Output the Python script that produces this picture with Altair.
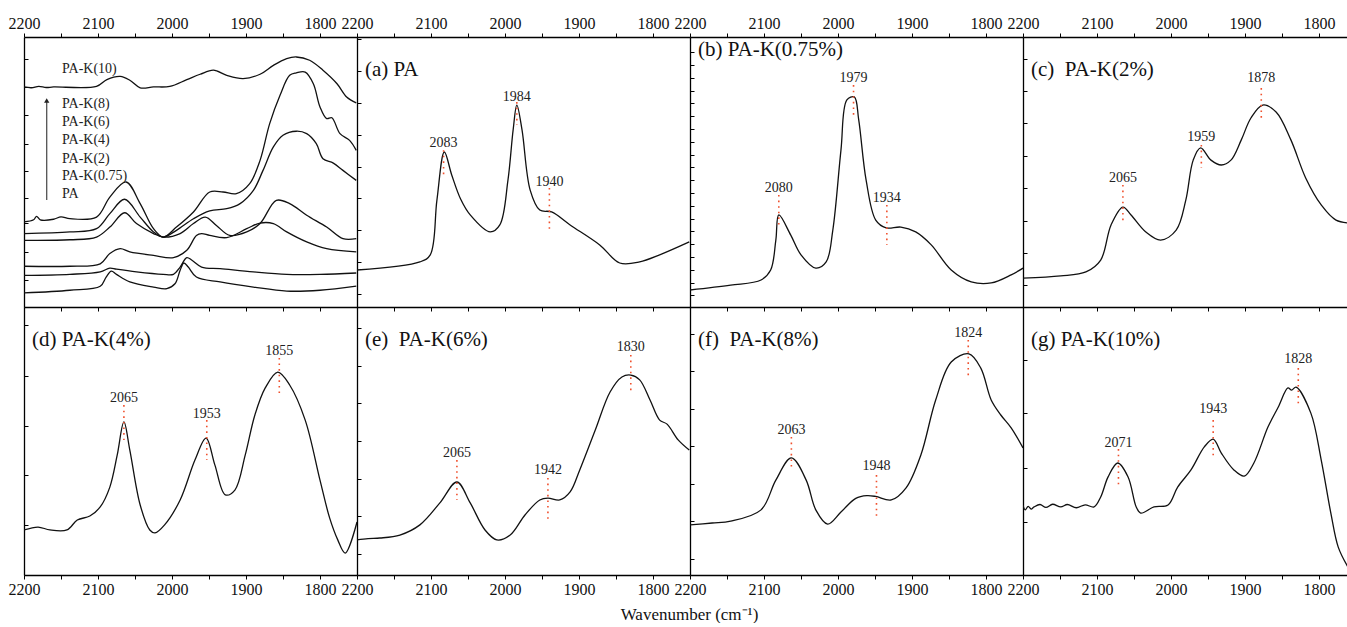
import altair as alt
import pandas as pd

# ---------------------------------------------------------------- data
# Overview panel: stacked spectra (wavenumber, intensity in arbitrary units)
ov_pa_k10_wn = [2200, 2190, 2180, 2170, 2160, 2102, 2088, 2070, 2057, 2043, 2025, 2003, 1980, 1962,
                1944, 1926, 1904, 1881, 1863, 1845, 1832, 1814, 1796, 1777, 1764, 1751]
ov_pa_k10_y = [81.5, 81.2, 81.7, 81.3, 81.5, 81.7, 84.2, 85.4, 84.0, 81.2, 81.5, 81.7, 84.2, 86.2,
               87.7, 85.8, 84.6, 86.2, 89.5, 92.0, 92.6, 91.4, 87.7, 82.7, 77.8, 75.6]
ov_pa_k8_wn = [2200, 2187, 2183, 2178, 2160, 2150, 2138, 2102, 2084, 2062, 2043, 2025, 2012, 1994, 1971,
               1949, 1931, 1913, 1895, 1881, 1868, 1854, 1841, 1832, 1820, 1809, 1800, 1791, 1784,
               1773, 1760, 1751]
ov_pa_k8_y = [31.5, 32.3, 33.6, 32.3, 32.5, 33.4, 32.7, 33.3, 40.7, 46.3, 38.3, 29.0, 25.9, 29.6, 35.2,
              42.6, 42.6, 42.0, 45.7, 54.3, 67.9, 78.4, 85.8, 86.7, 87.0, 82.7, 74.1, 69.8, 70.1,
              64.2, 61.7, 58.0]
ov_pa_k6_wn = [2200, 2138, 2102, 2084, 2064, 2043, 2025, 2012, 1994, 1971, 1949, 1926, 1908, 1890,
               1877, 1863, 1850, 1832, 1818, 1805, 1796, 1782, 1769, 1751]
ov_pa_k6_y = [27.2, 27.8, 29.0, 34.6, 39.9, 33.3, 27.8, 25.9, 28.4, 32.7, 35.6, 36.4, 38.3, 43.2,
              50.6, 59.3, 63.6, 65.1, 64.2, 60.5, 54.9, 53.3, 50.6, 46.9]
ov_pa_k4_wn = [2200, 2138, 2102, 2084, 2064, 2048, 2025, 2012, 1989, 1971, 1955, 1940, 1922, 1899,
               1881, 1859, 1841, 1818, 1791, 1769, 1751]
ov_pa_k4_y = [24.7, 24.9, 25.9, 29.6, 34.9, 30.9, 27.2, 25.9, 27.2, 30.9, 33.3, 30.2, 26.5, 27.8,
              30.9, 39.5, 38.3, 34.0, 29.6, 25.3, 25.3]
ov_pa_k2_wn = [2200, 2138, 2097, 2084, 2070, 2057, 2025, 1998, 1980, 1967, 1960, 1949, 1926, 1899,
               1881, 1863, 1845, 1818, 1791, 1751]
ov_pa_k2_y = [15.1, 15.1, 16.0, 19.8, 21.6, 20.4, 19.1, 18.3, 21.0, 26.5, 27.2, 26.5, 25.7, 29.0,
              31.1, 30.9, 27.8, 24.1, 21.6, 20.4]
ov_pa_k075_wn = [2200, 2138, 2097, 2084, 2075, 2048, 2012, 1998, 1989, 1980, 1973, 1960, 1935, 1890,
                 1845, 1800, 1751]
ov_pa_k075_y = [11.7, 12.1, 13.0, 14.4, 14.0, 13.0, 12.1, 12.1, 14.8, 18.3, 17.3, 14.8, 14.2, 13.0,
                12.1, 12.1, 12.6]
ov_pa_wn = [2200, 2138, 2097, 2089, 2082, 2075, 2057, 2025, 2007, 1996, 1989, 1984, 1978, 1967, 1935,
            1890, 1845, 1800, 1751]
ov_pa_y = [5.2, 6.2, 7.7, 11.1, 13.3, 12.1, 9.3, 7.4, 6.8, 8.6, 13.6, 16.3, 14.8, 11.1, 9.3,
           7.4, 5.9, 6.2, 7.7]

ov_names = ["PA-K(10)", "PA-K(8)", "PA-K(6)", "PA-K(4)", "PA-K(2)", "PA-K(0.75)", "PA"]
ov_label_wn = [2148.6] * 7
ov_label_y = [88.1, 75.2, 68.5, 61.9, 54.8, 48.5, 41.9]

# Single-sample panels
a_wn = [2200, 2115, 2101, 2092, 2082, 2072, 2060, 2047, 2020, 2007, 1996, 1989, 1984, 1977, 1966,
        1953, 1937, 1912, 1872, 1845, 1818, 1791, 1751]
a_y = [13.7, 16.7, 19.3, 39.6, 57.4, 48.9, 40.0, 34.1, 27.8, 30.4, 47.0, 65.6, 74.8, 65.6, 43.3,
       35.9, 35.2, 30.4, 23.0, 16.3, 16.7, 19.3, 24.1]

b_wn = [2200, 2145, 2104, 2091, 2084, 2080, 2064, 2050, 2030, 2016, 2007, 1996, 1988, 1978, 1972,
        1962, 1949, 1935, 1915, 1895, 1874, 1847, 1820, 1793, 1766, 1750]
b_y = [6.3, 8.1, 10.0, 13.7, 24.8, 34.1, 26.7, 19.3, 14.4, 16.7, 28.5, 58.1, 76.7, 77.8, 69.3,
       47.0, 32.2, 29.3, 29.6, 27.8, 23.0, 13.7, 9.3, 8.9, 11.9, 14.4]

c_wn = [2200, 2149, 2115, 2095, 2081, 2065, 2054, 2034, 2014, 1993, 1980, 1970, 1960, 1946, 1932,
        1919, 1905, 1892, 1876, 1858, 1838, 1818, 1797, 1777, 1750]
c_y = [10.7, 11.5, 13.0, 17.4, 30.4, 37.0, 34.1, 27.8, 24.8, 28.5, 39.6, 54.4, 58.9, 54.4, 52.6,
       54.4, 61.9, 70.0, 74.8, 72.2, 61.9, 47.8, 37.8, 32.2, 31.0]

d_wn = [2200, 2181, 2165, 2142, 2128, 2111, 2097, 2084, 2074, 2065, 2057, 2043, 2030, 2023, 2010,
        1989, 1969, 1954, 1942, 1928, 1915, 1901, 1888, 1874, 1857, 1841, 1820, 1800, 1787, 1776,
        1766, 1750]
d_y = [16.8, 17.9, 16.8, 16.8, 20.5, 22.0, 25.4, 32.8, 44.8, 57.1, 46.6, 26.1, 16.8, 15.7, 18.7,
       28.0, 42.9, 51.1, 41.0, 29.9, 31.7, 44.8, 59.7, 69.8, 75.7, 70.9, 57.8, 35.4, 21.3, 13.1,
       8.2, 19.8]

e_wn = [2200, 2185, 2169, 2142, 2115, 2088, 2065, 2047, 2027, 2011, 1993, 1973, 1953, 1942, 1926,
        1912, 1899, 1878, 1858, 1842, 1830, 1818, 1804, 1791, 1781, 1766, 1751]
e_y = [13.1, 13.6, 13.8, 14.9, 18.7, 26.9, 34.7, 26.9, 16.8, 13.1, 14.9, 22.4, 28.0, 28.7, 28.0,
       31.0, 39.2, 54.1, 68.3, 73.9, 74.6, 72.8, 65.3, 57.8, 56.3, 50.4, 46.6]

f_wn = [2200, 2170, 2145, 2104, 2084, 2063, 2043, 2030, 2014, 1996, 1976, 1961, 1949, 1928, 1908,
        1888, 1868, 1847, 1823, 1807, 1793, 1780, 1766, 1750]
f_y = [18.7, 19.4, 20.1, 24.3, 35.4, 43.7, 35.4, 24.3, 19.0, 23.5, 28.6, 29.6, 29.3, 28.0, 32.5,
       44.8, 65.3, 79.5, 82.5, 77.2, 65.3, 59.7, 54.9, 47.4]

g_wn = [2200, 2197, 2193, 2189, 2185, 2177, 2169, 2160, 2149, 2140, 2128, 2116, 2104, 2095, 2085,
        2072, 2058, 2047, 2041, 2023, 2004, 1991, 1973, 1955, 1943, 1932, 1915, 1901, 1888, 1869,
        1855, 1842, 1837, 1831, 1811, 1797, 1784, 1774, 1761]
g_y = [26.1, 24.3, 25.6, 24.6, 25.4, 26.3, 25.2, 26.4, 25.4, 26.3, 25.1, 26.2, 25.4, 29.1, 36.6,
       41.8, 36.6, 25.4, 23.1, 25.4, 26.1, 32.8, 39.2, 47.8, 50.7, 45.5, 39.2, 36.9, 41.8, 55.2,
       62.7, 69.8, 69.0, 70.1, 60.4, 42.9, 23.1, 10.4, 3.0]

# Peak annotations: position, label height, dotted marker extent
a_peaks = {"wn": [2083, 1984, 1940], "lab": [60.7, 77.8, 46.3], "top": [58.1, 75.9, 44.1], "bot": [47.8, 67.4, 28.5]}
b_peaks = {"wn": [2080, 1979, 1934], "lab": [44.1, 84.8, 40.4], "top": [41.5, 82.2, 37.8], "bot": [30.4, 71.1, 23.0]}
c_peaks = {"wn": [2065, 1959, 1878], "lab": [47.8, 63.0, 84.8], "top": [45.2, 60.0, 81.1], "bot": [31.5, 51.5, 69.3]}
d_peaks = {"wn": [2065, 1953, 1855], "lab": [66.0, 60.1, 83.6], "top": [63.4, 57.8, 81.0], "bot": [50.4, 42.9, 67.2]}
e_peaks = {"wn": [2065, 1942, 1830], "lab": [45.5, 39.2, 85.1], "top": [42.9, 36.2, 82.1], "bot": [28.0, 20.5, 68.3]}
f_peaks = {"wn": [2063, 1948, 1824], "lab": [54.1, 40.7, 90.3], "top": [51.5, 37.3, 87.7], "bot": [39.2, 21.3, 73.9]}
g_peaks = {"wn": [2071, 1943, 1828], "lab": [49.3, 61.9, 80.6], "top": [47.0, 57.8, 77.2], "bot": [32.8, 43.7, 62.7]}

panel_titles = ["", "(a) PA", "(b) PA-K(0.75%)", "(c)\u00a0 PA-K(2%)",
                "(d) PA-K(4%)", "(e)\u00a0 PA-K(6%)", "(f)\u00a0 PA-K(8%)", "(g) PA-K(10%)"]

x_ticks = [2200, 2150, 2100, 2050, 2000, 1950, 1900, 1850, 1800]

# y tick positions for each panel (arbitrary intensity units)
y_ticks = [
    [10, 20.5, 31, 40.5, 50.5, 60.5, 71, 81.5, 92],
    [4.8, 16.6, 28.4, 40.2, 52, 63.8, 75.6, 87.4, 99.2],
    [4.3 + 4.74 * i for i in range(20)],
    [8, 20, 32, 44, 56, 68, 80, 92],
    [0, 18.7, 37.3, 55.6, 74.3, 93.3],
    [8, 22, 36, 50, 64, 78, 92],
    [6, 20, 34, 48, 62, 76, 90],
    [0, 19.8, 39.9, 60.4, 80.2, 100],
]

# ---------------------------------------------------------------- style
SERIF = "Liberation Serif"
PX_PER_UNIT = 0.74
COL_W = [333, 333, 333, 324]
ROW_H = [270, 268]
DOT_RED = "#f0502d"


def x_axis(orient, labels):
    return alt.Axis(orient=orient, values=x_ticks, labels=labels,
                    labelExpr="datum.value % 100 == 0 ? datum.label : ''",
                    format="d", labelFlush=False, labelOverlap=False,
                    labelFont=SERIF, labelFontSize=16, labelColor="#111",
                    labelPadding=2, tickSize=4, tickColor="#000", tickWidth=1,
                    domainColor="#000", domainWidth=1.3, grid=False, title=None)


def scales(idx):
    row, col = divmod(idx, 4)
    w = COL_W[col]
    xs = alt.Scale(domain=[2200 - w / PX_PER_UNIT, 2200], reverse=True, nice=False, zero=False)
    ys = alt.Scale(domain=[0, 100], nice=False, zero=False)
    return xs, ys


def panel(idx, curves, peaks=None, extra=()):
    row, col = divmod(idx, 4)
    w, h = COL_W[col], ROW_H[row]
    xs, ys = scales(idx)
    y_ax = alt.Axis(orient="right", offset=-w, labels=False, values=y_ticks[idx],
                    tickSize=4, tickColor="#000", tickWidth=1, domainColor="#000",
                    domainWidth=1.3, grid=False, title=None)
    main_x = x_axis("top", True) if row == 0 else x_axis("bottom", True)

    layers = [
        alt.Chart(curves).mark_line(color="#111", strokeWidth=1.3, interpolate="catmull-rom", clip=True)
        .encode(x=alt.X("wn:Q", scale=xs, axis=main_x),
                y=alt.Y("y:Q", scale=ys, axis=y_ax),
                detail="series:N")
    ]
    if row == 0:
        # lower frame edge of the upper row, ticks pointing down
        layers.append(
            alt.Chart(pd.DataFrame({"wn": [2200]})).mark_point(opacity=0)
            .encode(x=alt.X("wn:Q", scale=xs, axis=x_axis("bottom", False)))
        )
    if peaks is not None:
        pk = pd.DataFrame(peaks)
        pk["txt"] = [str(v) for v in peaks["wn"]]
        layers.append(
            alt.Chart(pk).mark_rule(color=DOT_RED, strokeDash=[1.6, 4], strokeWidth=1.6)
            .encode(x=alt.X("wn:Q", scale=xs, axis=None),
                    y=alt.Y("top:Q", scale=ys, axis=None), y2="bot:Q")
        )
        layers.append(
            alt.Chart(pk).mark_text(font=SERIF, fontSize=14, color="#222", baseline="middle")
            .encode(x=alt.X("wn:Q", scale=xs, axis=None),
                    y=alt.Y("lab:Q", scale=ys, axis=None), text="txt:N")
        )
    layers.extend(extra)
    title = panel_titles[idx]
    if title:
        ty = 13 if idx == 2 else 33
        layers.append(
            alt.Chart(pd.DataFrame({"t": [title]})).mark_text(
                font=SERIF, fontSize=21, color="#111", align="left", baseline="middle")
            .encode(text="t:N", x=alt.value(8), y=alt.value(ty))
        )
    return alt.layer(*layers).resolve_axis(x="independent", y="independent").properties(width=w, height=h)


def frame(wn, y, name="s"):
    return pd.DataFrame({"wn": wn, "y": y, "series": name})


# overview panel with sample names and arrow
ov_series = [(ov_pa_k10_wn, ov_pa_k10_y), (ov_pa_k8_wn, ov_pa_k8_y), (ov_pa_k6_wn, ov_pa_k6_y),
             (ov_pa_k4_wn, ov_pa_k4_y), (ov_pa_k2_wn, ov_pa_k2_y), (ov_pa_k075_wn, ov_pa_k075_y),
             (ov_pa_wn, ov_pa_y)]
ov_df = pd.concat([frame(w_, y_, n) for (w_, y_), n in zip(ov_series, ov_names)], ignore_index=True)
ov_xs, ov_ys = scales(0)
ov_labels = alt.Chart(pd.DataFrame({"wn": ov_label_wn, "y": ov_label_y, "t": ov_names})).mark_text(
    font=SERIF, fontSize=14, color="#222", align="left", baseline="middle"
).encode(x=alt.X("wn:Q", scale=ov_xs, axis=None), y=alt.Y("y:Q", scale=ov_ys, axis=None), text="t:N")
arrow_df = pd.DataFrame({"wn": [2169.3], "y0": [39.6], "y1": [76.5]})
arrow_shaft = alt.Chart(arrow_df).mark_rule(color="#444", strokeWidth=1.2).encode(
    x=alt.X("wn:Q", scale=ov_xs, axis=None), y=alt.Y("y0:Q", scale=ov_ys, axis=None), y2="y1:Q")
arrow_head = alt.Chart(arrow_df).mark_point(shape="triangle-up", filled=True, size=28, color="#222",
                                            opacity=1).encode(
    x=alt.X("wn:Q", scale=ov_xs, axis=None), y=alt.Y("y1:Q", scale=ov_ys, axis=None))

panels = [
    panel(0, ov_df, extra=(ov_labels, arrow_shaft, arrow_head)),
    panel(1, frame(a_wn, a_y), a_peaks),
    panel(2, frame(b_wn, b_y), b_peaks),
    panel(3, frame(c_wn, c_y), c_peaks),
    panel(4, frame(d_wn, d_y), d_peaks),
    panel(5, frame(e_wn, e_y), e_peaks),
    panel(6, frame(f_wn, f_y), f_peaks),
    panel(7, frame(g_wn, g_y), g_peaks),
]

chart = alt.concat(*panels, columns=4, spacing=0, bounds="flush").properties(
    title=alt.TitleParams("Wavenumber (cm\u207b\u00b9)", orient="bottom", anchor="middle",
                          font=SERIF, fontSize=17, fontWeight="normal", color="#111", offset=10, dx=12),
    padding={"left": 8, "top": 15, "right": 0, "bottom": 0},
    background="white",
).configure_view(stroke=None)

chart.save("out.html", embed_options={"renderer": "svg", "actions": False})
